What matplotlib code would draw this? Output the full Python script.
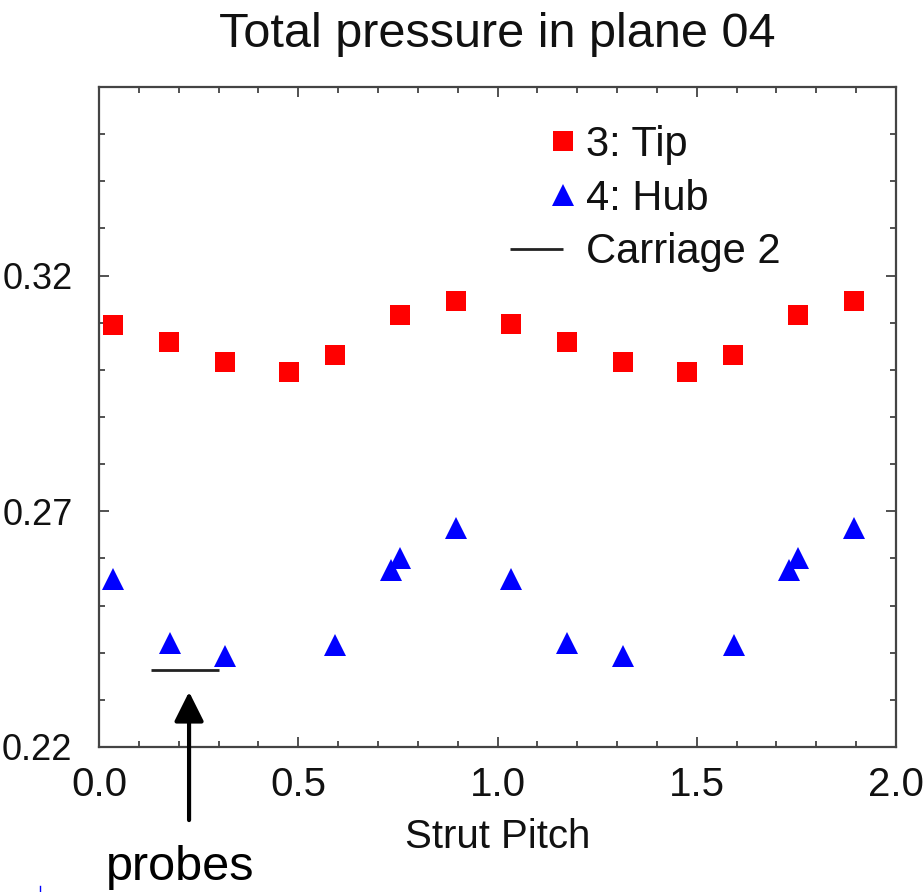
import numpy as np
import matplotlib
matplotlib.use("Agg")
import matplotlib.pyplot as plt
from matplotlib.legend_handler import HandlerLine2DCompound
from matplotlib.lines import Line2D
from matplotlib.ticker import MultipleLocator

plt.rcParams['font.family'] = ['Liberation Sans', 'DejaVu Sans']

# ---- data ----
tip_x = [0.036, 0.176, 0.315, 0.478, 0.592, 0.755, 0.895,
         1.034, 1.175, 1.314, 1.476, 1.592, 1.755, 1.894]
tip_y = [0.3095, 0.3059, 0.3016, 0.2996, 0.3032, 0.3117, 0.3147,
         0.3097, 0.3059, 0.3016, 0.2996, 0.3032, 0.3117, 0.3147]

hub_x = [0.036, 0.177, 0.315, 0.593, 0.732, 0.756, 0.895,
         1.035, 1.175, 1.314, 1.593, 1.732, 1.755, 1.895]
hub_y = [0.2556, 0.2421, 0.2392, 0.2417, 0.2575, 0.2600, 0.2664,
         0.2556, 0.2420, 0.2392, 0.2417, 0.2575, 0.2601, 0.2664]

carriage_x = [0.13, 0.30]
carriage_y = [0.2363, 0.2363]

arrow_x = 0.226
arrow_tip_y = 0.2317
arrow_tail_y = 0.2045

xticks = [0.0, 0.5, 1.0, 1.5, 2.0]
xtick_labels = ["0.0", "0.5", "1.0", "1.5", "2.0"]
yticks = [0.22, 0.27, 0.32]
ytick_labels = ["0.22", "0.27", "0.32"]

title = "Total pressure in plane 04"
xlabel = "Strut Pitch"
labels = ["3: Tip", "4: Hub", "Carriage 2"]
annot_text = "probes"

# ---- figure ----
W, H = 923, 892
fig = plt.figure(figsize=(W / 100, H / 100), dpi=100)
ax = fig.add_axes([99 / W, (H - 747) / H, 797 / W, 660 / H])

h_tip, = ax.plot(tip_x, tip_y, linestyle='none', marker='s', markersize=13.8,
                 color='#ff0000', markeredgewidth=0, label=labels[0])
h_hub, = ax.plot(hub_x, hub_y, linestyle='none', marker='^', markersize=16.5,
                 color='#0000ff', markeredgewidth=0, label=labels[1])
h_car, = ax.plot(carriage_x, carriage_y, color='#222222', lw=2.0,
                 solid_capstyle='butt', label=labels[2])

ax.set_xlim(0.0, 2.0)
ax.set_ylim(0.22, 0.36)
ax.set_xticks(xticks)
ax.set_xticklabels(xtick_labels)
ax.set_yticks(yticks)
ax.set_yticklabels(ytick_labels)
ax.xaxis.set_minor_locator(MultipleLocator(0.1))
ax.yaxis.set_minor_locator(MultipleLocator(0.01))

ax.tick_params(which='both', direction='in', top=True, right=True,
               color='#333333', width=1.2)
ax.tick_params(which='major', length=7)
ax.tick_params(which='minor', length=4.5)
ax.tick_params(axis='x', which='major', labelsize=29, pad=14, labelcolor='#111111')
ax.tick_params(axis='y', which='major', labelsize=26, pad=19, labelcolor='#111111')

for sp in ax.spines.values():
    sp.set_linewidth(1.6)
    sp.set_color('#444444')

ax.set_title(title, fontsize=35, pad=29, color='#111111')
ax.set_xlabel(xlabel, fontsize=29, va='baseline', color='#111111')
ax.xaxis.set_label_coords(0.5, (747 - 848) / 660)


class RightMarker(HandlerLine2DCompound):
    def get_xdata(self, legend, xdescent, ydescent, width, height, fontsize):
        xdata = np.array([-xdescent, -xdescent + width])
        xdata_marker = np.array([-xdescent + width])
        return xdata, xdata_marker


leg = ax.legend(handles=[h_tip, h_hub, h_car], loc='upper left',
                bbox_to_anchor=((510 - 99) / 797, (747 - 125) / 660),
                frameon=False, fontsize=30, borderpad=0, borderaxespad=0,
                handlelength=1.27, handletextpad=0.55, labelspacing=0.33,
                handler_map={h_tip: RightMarker(), h_hub: RightMarker(),
                             h_car: RightMarker()})
for t in leg.get_texts():
    t.set_color('#111111')

ax.annotate("", xy=(arrow_x, arrow_tip_y), xytext=(arrow_x, arrow_tail_y),
            xycoords='data', textcoords='data', annotation_clip=False,
            arrowprops=dict(arrowstyle='-|>,head_length=0.9,head_width=0.45',
                            mutation_scale=20, lw=3, color='black',
                            shrinkA=0, shrinkB=0))

fig.text(180 / W, (H - 880) / H, annot_text, fontsize=35, ha='center',
         va='baseline', color='black')

# tiny blue mark at bottom-left of the reference
fig.add_artist(Line2D([40 / W, 40 / W], [0, 6 / H], color='#0000ff', lw=1,
                      transform=fig.transFigure))

fig.savefig("out.png", dpi=100)
